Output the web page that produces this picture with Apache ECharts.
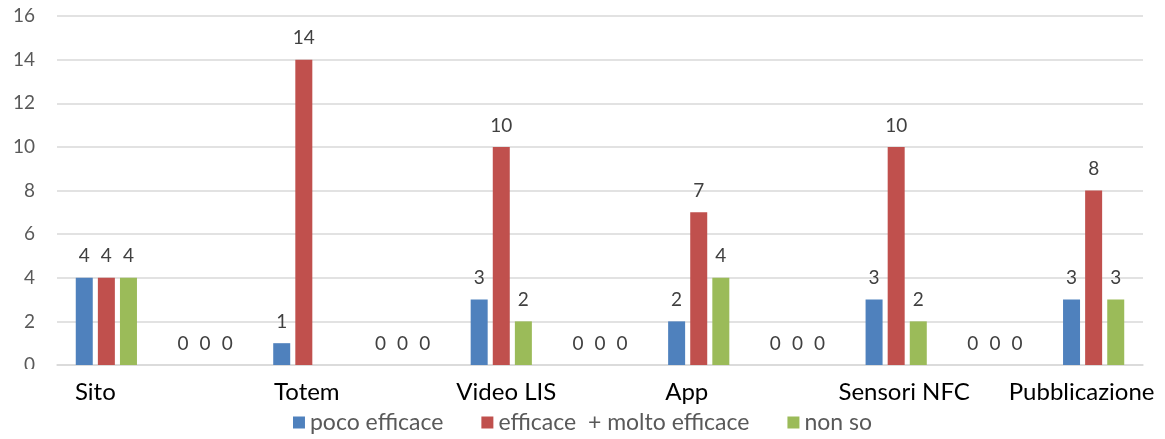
<!DOCTYPE html>
<html><head><meta charset="utf-8">
<script src="https://cdn.jsdelivr.net/npm/echarts@6/dist/echarts.min.js"></script>
<style>html,body{margin:0;padding:0;background:#fff}#c{width:1165px;height:439px}</style>
</head><body><div id="c"></div>
<script>
var categories = ['Sito', '', 'Totem', '', 'Video LIS', '', 'App', '', 'Sensori NFC', '', 'Pubblicazione'];
var labelShift = [-11, 0, 3, 0, 5, 0, -12, 0, 8, 0, -12];
var seriesNames = ['poco efficace', 'efficace  + molto efficace', 'non so'];
var pocoEfficace = [4, 0, 1, 0, 3, 0, 2, 0, 3, 0, 3];
var efficace = [4, 0, 14, 0, 10, 0, 7, 0, 10, 0, 8];
var nonSo = [4, 0, null, 0, 2, 0, 4, 0, 2, 0, 3];
var yTicks = [0, 2, 4, 6, 8, 10, 12, 14, 16];
var colors = ['#4F81BD', '#C0504D', '#9BBB59'];

var FONT = 'Lato';
var chart = echarts.init(document.getElementById('c'));
var catData = categories.map(function (c, i) {
  var s = labelShift[i];
  return { value: c, textStyle: { padding: s < 0 ? [0, -2 * s, 0, 0] : [0, 0, 0, 2 * s] } };
});
function mk(name, data, idx) {
  return {
    name: name, type: 'bar', data: data, barWidth: 17, barGap: '30%',
    itemStyle: { color: colors[idx] },
    label: { show: true, position: 'top', distance: 12, color: '#404040', fontFamily: FONT, fontSize: 19 }
  };
}
chart.setOption({
  animation: false,
  textStyle: { fontFamily: FONT },
  grid: { left: 57, right: 22, top: 16, bottom: 74 },
  legend: {
    bottom: 0, left: 'center', itemWidth: 12, itemHeight: 12, itemGap: 38, icon: 'rect',
    textStyle: { color: '#595959', fontFamily: FONT, fontSize: 23 },
    data: seriesNames
  },
  xAxis: {
    type: 'category', data: catData,
    axisLine: { lineStyle: { color: '#D9D9D9', width: 1.5 } },
    axisTick: { show: false },
    axisLabel: { interval: 0, color: '#000', fontFamily: FONT, fontSize: 24, margin: 15 }
  },
  yAxis: {
    type: 'value', min: yTicks[0], max: yTicks[yTicks.length - 1], interval: 2,
    axisLine: { show: false }, axisTick: { show: false },
    splitLine: { lineStyle: { color: '#D9D9D9', width: 1.5 } },
    axisLabel: { color: '#595959', fontFamily: FONT, fontSize: 19, margin: 22 }
  },
  graphic: [{ type: 'rect', left: 0, top: 369, shape: { width: 50, height: 12 }, style: { fill: '#fff' }, z: 100 }],
  series: [mk(seriesNames[0], pocoEfficace, 0), mk(seriesNames[1], efficace, 1), mk(seriesNames[2], nonSo, 2)]
});
</script></body></html>
